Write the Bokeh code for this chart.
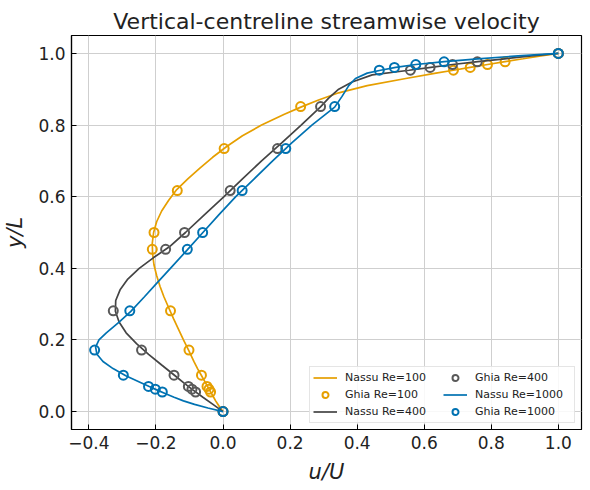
from bokeh.plotting import figure
from bokeh.models import FixedTicker, Legend, LegendItem
from bokeh.embed import file_html
from bokeh.resources import INLINE

# Ghia et al. (1982) reference data
ghia_y = [1.0000, 0.9766, 0.9688, 0.9609, 0.9531, 0.8516, 0.7344, 0.6172, 0.5000,
          0.4531, 0.2813, 0.1719, 0.1016, 0.0703, 0.0625, 0.0547, 0.0000]
ghia_u100 = [1.0, 0.84123, 0.78871, 0.73722, 0.68717, 0.23151, 0.00332, -0.13641, -0.20581,
             -0.21090, -0.15662, -0.10150, -0.06434, -0.04775, -0.04192, -0.03717, 0.0]
ghia_u400 = [1.0, 0.75837, 0.68439, 0.61756, 0.55892, 0.29093, 0.16256, 0.02135, -0.11477,
             -0.17119, -0.32726, -0.24299, -0.14612, -0.10338, -0.09266, -0.08186, 0.0]
ghia_u1000 = [1.0, 0.65928, 0.57492, 0.51117, 0.46604, 0.33304, 0.18719, 0.05702, -0.06080,
              -0.10648, -0.27805, -0.38289, -0.29730, -0.22220, -0.20196, -0.18109, 0.0]

# Nassu simulation profiles
nassu_y100 = [0.0, 0.01, 0.02, 0.03, 0.04, 0.05, 0.06, 0.08, 0.10, 0.12, 0.14, 0.17, 0.20,
              0.23, 0.26, 0.29, 0.32, 0.35, 0.38, 0.41, 0.44, 0.47, 0.50, 0.53, 0.56, 0.59,
              0.62, 0.65, 0.68, 0.71, 0.74, 0.77, 0.80, 0.83, 0.85, 0.87, 0.89, 0.91, 0.93,
              0.945, 0.953, 0.961, 0.969, 0.977, 0.985, 0.993, 1.0]
nassu_u100 = [0.0, -0.008, -0.015, -0.022, -0.028, -0.034, -0.040, -0.052, -0.064, -0.076,
              -0.087, -0.102, -0.118, -0.133, -0.148, -0.162, -0.176, -0.188, -0.198, -0.206,
              -0.210, -0.211, -0.207, -0.198, -0.183, -0.162, -0.138, -0.105, -0.069, -0.031,
              0.011, 0.058, 0.115, 0.183, 0.232, 0.285, 0.345, 0.430, 0.545, 0.635, 0.687,
              0.737, 0.789, 0.841, 0.895, 0.948, 1.0]

nassu_y400 = [0.0, 0.02, 0.04, 0.06, 0.08, 0.10, 0.13, 0.16, 0.19, 0.22, 0.25, 0.28, 0.31,
              0.34, 0.37, 0.40, 0.43, 0.46, 0.50, 0.55, 0.60, 0.65, 0.70, 0.75, 0.80, 0.85,
              0.875, 0.90, 0.92, 0.94, 0.953, 0.961, 0.969, 0.977, 0.985, 0.993, 1.0]
nassu_u400 = [0.0, -0.030, -0.060, -0.089, -0.117, -0.143, -0.183, -0.222, -0.258, -0.289,
              -0.310, -0.321, -0.320, -0.307, -0.284, -0.250, -0.207, -0.160, -0.112, -0.055,
              0.003, 0.058, 0.115, 0.175, 0.233, 0.290, 0.315, 0.345, 0.385, 0.445, 0.555,
              0.620, 0.685, 0.760, 0.840, 0.920, 1.0]

nassu_y1000 = [0.0, 0.01, 0.02, 0.03, 0.04, 0.05, 0.06, 0.07, 0.08, 0.10, 0.12, 0.14, 0.16,
               0.18, 0.20, 0.22, 0.25, 0.28, 0.32, 0.36, 0.40, 0.45, 0.50, 0.55, 0.60, 0.65,
               0.70, 0.75, 0.80, 0.85, 0.88, 0.91, 0.93, 0.945, 0.953, 0.961, 0.969, 0.977,
               0.985, 0.993, 1.0]
nassu_u1000 = [0.0, -0.045, -0.085, -0.118, -0.146, -0.171, -0.196, -0.220, -0.243, -0.290,
               -0.328, -0.358, -0.376, -0.380, -0.370, -0.348, -0.310, -0.275, -0.235, -0.196,
               -0.157, -0.108, -0.060, -0.012, 0.038, 0.093, 0.148, 0.205, 0.265, 0.333, 0.355,
               0.375, 0.395, 0.430, 0.470, 0.515, 0.575, 0.660, 0.760, 0.880, 1.0]

x_ticks = [-0.4, -0.2, 0.0, 0.2, 0.4, 0.6, 0.8, 1.0]
y_ticks = [0.0, 0.2, 0.4, 0.6, 0.8, 1.0]

ORANGE = "#E69F00"
GRAY_L = "#444444"
GRAY_M = "#595959"
BLUE = "#0072B2"
FONT = "DejaVu Sans"

p = figure(width=590, height=490, output_backend="svg", toolbar_location=None,
           x_range=(-0.4519, 1.0691), y_range=(-0.05, 1.05),
           min_border_left=71, min_border_right=9, min_border_top=35, min_border_bottom=61,
           title="Vertical-centreline streamwise velocity")
p.title.align = "center"
p.title.text_font = FONT
p.title.text_font_size = "22px"
p.title.text_font_style = "normal"
p.title.text_color = "#222222"
p.title.standoff = 4

p.outline_line_color = "black"
p.outline_line_width = 1.2
p.background_fill_color = "white"
p.border_fill_color = "white"

for ax, ticks in ((p.xaxis, x_ticks), (p.yaxis, y_ticks)):
    ax.ticker = FixedTicker(ticks=ticks)
    ax.major_label_overrides = {t: (f"{t:.1f}".replace("-", "\u2212")) for t in ticks}
    ax.major_tick_in = 5
    ax.major_tick_out = 0
    ax.minor_tick_line_color = None
    ax.major_tick_line_color = "black"
    ax.axis_line_color = "black"
    ax.axis_line_width = 1.2
    ax.major_label_text_font = FONT
    ax.major_label_text_font_size = "17px"
    ax.major_label_text_color = "#222222"
    ax.major_label_standoff = 6
    ax.axis_label_text_font = FONT
    ax.axis_label_text_font_size = "21px"
    ax.axis_label_text_font_style = "italic"
    ax.axis_label_text_color = "#222222"

p.xaxis.axis_label = "u/U"
p.yaxis.axis_label = "y/L"
p.xaxis.axis_label_standoff = 8
p.yaxis.axis_label_standoff = 8

p.xgrid.ticker = FixedTicker(ticks=x_ticks)
p.ygrid.ticker = FixedTicker(ticks=y_ticks)
p.grid.grid_line_color = "#cfcfcf"
p.grid.grid_line_width = 1

l100 = p.line(nassu_u100, nassu_y100, line_color=ORANGE, line_width=1.7)
g100 = p.scatter(ghia_u100, ghia_y, marker="circle", size=9, fill_color=None,
                 line_color=ORANGE, line_width=2)
l400 = p.line(nassu_u400, nassu_y400, line_color=GRAY_L, line_width=1.7)
g400 = p.scatter(ghia_u400, ghia_y, marker="circle", size=9, fill_color=None,
                 line_color=GRAY_M, line_width=2)
l1000 = p.line(nassu_u1000, nassu_y1000, line_color=BLUE, line_width=1.7)
g1000 = p.scatter(ghia_u1000, ghia_y, marker="circle", size=9, fill_color=None,
                  line_color=BLUE, line_width=2)

legend = Legend(items=[
    LegendItem(label="Nassu Re=100", renderers=[l100]),
    LegendItem(label="Ghia Re=100", renderers=[g100]),
    LegendItem(label="Nassu Re=400", renderers=[l400]),
    LegendItem(label="Ghia Re=400", renderers=[g400]),
    LegendItem(label="Nassu Re=1000", renderers=[l1000]),
    LegendItem(label="Ghia Re=1000", renderers=[g1000]),
], location="bottom_right", nrows=3)
legend.label_text_font = FONT
legend.label_text_font_size = "11px"
legend.label_text_color = "#222222"
legend.glyph_width = 24
legend.glyph_height = 15
legend.label_height = 15
legend.label_width = 96
legend.label_standoff = 8
legend.spacing = 2
legend.padding = 3
legend.margin = 6
legend.border_line_color = "#cccccc"
legend.background_fill_alpha = 0.85
p.add_layout(legend, "center")

open("out.html", "w").write(file_html(p, INLINE))
